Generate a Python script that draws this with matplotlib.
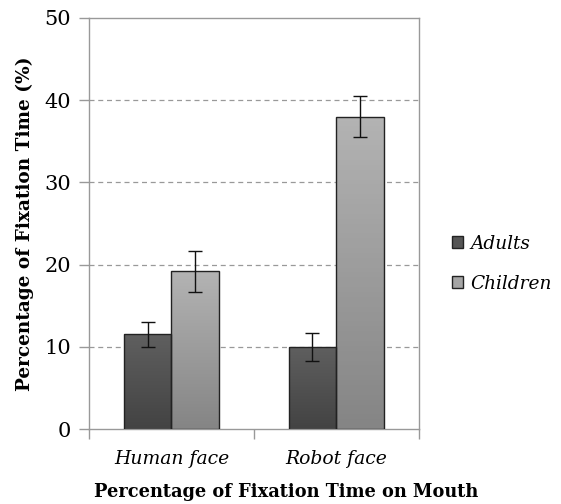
import numpy as np
import matplotlib.pyplot as plt
from matplotlib.patches import Patch

plt.rcParams['font.family'] = ['DejaVu Serif']

categories = ["Human face", "Robot face"]
groups = ["Adults", "Children"]
adults = [11.5, 10.0]
adults_err = [1.5, 1.7]
children = [19.2, 38.0]
children_err = [2.5, 2.5]

# top / bottom colours of the vertical gradient on each series
shades = {"Adults": ("#5f5f5f", "#434343"), "Children": ("#b3b3b3", "#858585")}

fig = plt.figure(figsize=(5.61, 5.04), dpi=100)
ax = fig.add_axes([0.1586, 0.1488, 0.588, 0.8155])

x = np.arange(len(categories))
w = 0.29


def gradient_bars(xpos, vals, errs, name):
    top, bot = shades[name]
    bars = ax.bar(xpos, vals, w, color="none", edgecolor="#222222",
                  linewidth=1.0, zorder=3)
    c0 = np.array(plt.matplotlib.colors.to_rgb(top))
    c1 = np.array(plt.matplotlib.colors.to_rgb(bot))
    t = np.linspace(0, 1, 64)[:, None]
    grad = (c0 * (1 - t) + c1 * t)[:, None, :]
    for b in bars:
        x0, y0 = b.get_x(), b.get_y()
        im = ax.imshow(grad, extent=[x0, x0 + b.get_width(), y0, y0 + b.get_height()],
                       aspect="auto", origin="upper", zorder=2.5)
        im.set_clip_path(b)
    ax.errorbar(xpos, vals, yerr=errs, fmt="none", ecolor="#111111",
                elinewidth=1.0, capsize=5, capthick=1.0, zorder=4)


gradient_bars(x - w / 2, adults, adults_err, "Adults")
gradient_bars(x + w / 2, children, children_err, "Children")

ax.set_xlim(-0.5, 1.5)
ax.set_ylim(0, 50)
ax.set_yticks([0, 10, 20, 30, 40, 50])
ax.set_xticks([-0.5, 0.5, 1.5])
ax.set_xticklabels([])
ax.tick_params(axis="x", length=7, color="#999999", width=1)
ax.tick_params(axis="y", length=7, color="#999999", width=1, labelsize=15, pad=6)
for yv in [10, 20, 30, 40]:
    ax.axhline(yv, color="#999999", linestyle=(0, (4, 3)), linewidth=0.9, zorder=1)
for s in ax.spines.values():
    s.set_color("#999999")
    s.set_linewidth(1.0)

for xi, cat in zip(x, categories):
    ax.text(xi, -2.6, cat, ha="center", va="top", fontsize=13.5, style="italic",
            transform=ax.transData)

ax.set_ylabel("Percentage of Fixation Time (%)", fontsize=13.3, fontweight="bold", labelpad=7)
fig.text(0.51, 0.024, "Percentage of Fixation Time on Mouth", ha="center", va="center",
         fontsize=12.8, fontweight="bold")

handles = [Patch(facecolor="#555555", edgecolor="#222222"),
           Patch(facecolor="#a5a5a5", edgecolor="#222222")]
fig.legend(handles, groups, loc="center left", bbox_to_anchor=(0.805, 0.477),
           frameon=False, prop={"style": "italic", "size": 13.3},
           handlelength=0.6, handleheight=0.6, handletextpad=0.4, labelspacing=1.2,
           borderpad=0, borderaxespad=0)

fig.savefig("out.png", dpi=100)
